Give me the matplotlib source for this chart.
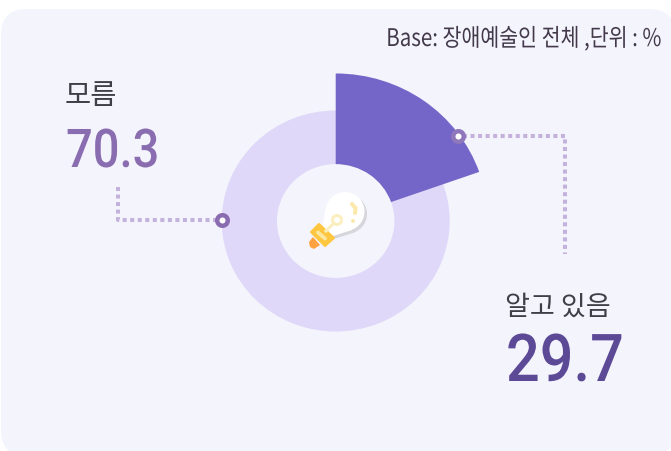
import matplotlib
matplotlib.use('Agg')
import matplotlib.pyplot as plt
from matplotlib.patches import FancyBboxPatch, Circle, Polygon
from matplotlib.patheffects import AbstractPathEffect
from matplotlib.transforms import Affine2D

plt.rcParams['font.family'] = ['Noto Sans CJK KR', 'DejaVu Sans']

# values
categories = ['모름', '알고 있음']
values = ['70.3', '29.7']
note = 'Base: 장애예술인 전체 ,단위 : %'
drawn_share = [80.4, 19.6]

W, H = 671, 452
fig = plt.figure(figsize=(W / 100, H / 100), dpi=100, facecolor='white')


class SquishX(AbstractPathEffect):
    # the original type is set tight, matplotlib has no tracking so narrow it around x0
    def __init__(self, x0, sx):
        super().__init__()
        self.x0, self.sx = x0, sx

    def draw_path(self, renderer, gc, tpath, affine, rgbFace=None):
        squish = Affine2D().translate(-self.x0, 0).scale(self.sx, 1).translate(self.x0, 0)
        renderer.draw_path(gc, tpath, affine + squish, rgbFace)


def pixel_axes(z):
    ax = fig.add_axes([0, 0, 1, 1], zorder=z)
    ax.set_xlim(0, W)
    ax.set_ylim(H, 0)
    ax.axis('off')
    return ax


# panel
bg = pixel_axes(0)
bg.add_patch(FancyBboxPatch((1, 10), 674, 447, boxstyle='round,pad=0,rounding_size=26',
                            fc='#F4F4FD', ec='none'))

# donut
cx, cy, rx, ry = 335.7, 222, 114, 110.5
lim = 1.4
donut = fig.add_axes([(cx - rx * lim) / W, 1 - (cy + ry * lim) / H, 2 * rx * lim / W, 2 * ry * lim / H], zorder=1)
donut.pie([100], radius=1, colors=['#DFD8F8'], wedgeprops={'width': 0.485, 'linewidth': 0})
donut.pie(drawn_share, radius=1.335, startangle=90, colors=['none', '#7366C8'],
          wedgeprops={'width': 0.82, 'linewidth': 0})
donut.set_aspect('auto')
donut.set_xlim(-lim, lim)
donut.set_ylim(-lim, lim)
donut.patch.set_alpha(0)

top = pixel_axes(2)

# leaders
dot = '#C3B2DC'
top.plot([118, 118, 218], [188, 221.3, 221.3], color=dot, lw=2.9, ls=(0, (1, 0.87)))
top.plot([463, 565, 565], [136.7, 136.7, 255], color=dot, lw=2.9, ls=(0, (1, 0.87)))
top.plot([222], [221.3], 'o', ms=7.6, mfc='white', mec='#8A6DB0', mew=3.2)
top.plot([458.3], [136.7], 'o', ms=7.6, mfc='white', mec='#8F77BC', mew=3.2)

# bulb
for dx, col in [(2.5, '#D6D6DC'), (0, 'white')]:
    top.add_patch(Circle((345 + dx, 212.5 + dx), 19.5, fc=col, ec='none'))
    top.add_patch(Polygon([(326 + dx, 208 + dx), (322 + dx, 230 + dx), (330 + dx, 238 + dx),
                           (352 + dx, 231 + dx)], fc=col, ec='none'))
top.add_patch(Circle((337, 221), 4.5, fc='none', ec='#FBEFC0', lw=2.2))
top.plot([334, 326], [224, 232], color='#FBEFC0', lw=2.2)
top.plot([352, 355.5, 355], [205, 209, 214], color='#FBE9AE', lw=3, solid_capstyle='round')
top.add_patch(Circle((353, 222), 2, fc='#FBE9AE', ec='none'))
top.add_patch(Polygon([(309, 243), (313, 238), (320, 246), (314, 250), (310, 248)], fc='#FFA23F', ec='none'))
top.add_patch(Polygon([(311, 233), (319, 225), (334, 239), (325, 247)], fc='#FFC63F', ec='#FFC63F',
                      lw=1.5, joinstyle='round'))
top.plot([318, 325], [233.5, 239.5], color='#FCE6A0', lw=2.8, solid_capstyle='round')

# text
num_font = ['Roboto', 'DejaVu Sans']
top.text(662, 47, note, ha='right', va='baseline', fontsize=17.5, color='#43394A',
         path_effects=[SquishX(662, 0.845)])
top.text(65, 103.5, categories[0], ha='left', va='baseline', fontsize=20.5, color='#3F3F46')
top.text(66, 168, values[0], ha='left', va='baseline', fontsize=38.5, color='#8A6DB0',
         family=num_font, weight='medium', path_effects=[SquishX(66, 0.88)])
top.text(505, 315, categories[1], ha='left', va='baseline', fontsize=19.5, color='#3F3F46')
top.text(506, 382, values[1], ha='left', va='baseline', fontsize=47.5, color='#5D4A96',
         family=num_font, weight='medium', path_effects=[SquishX(506, 0.9)])

fig.savefig('out.png', dpi=100)
